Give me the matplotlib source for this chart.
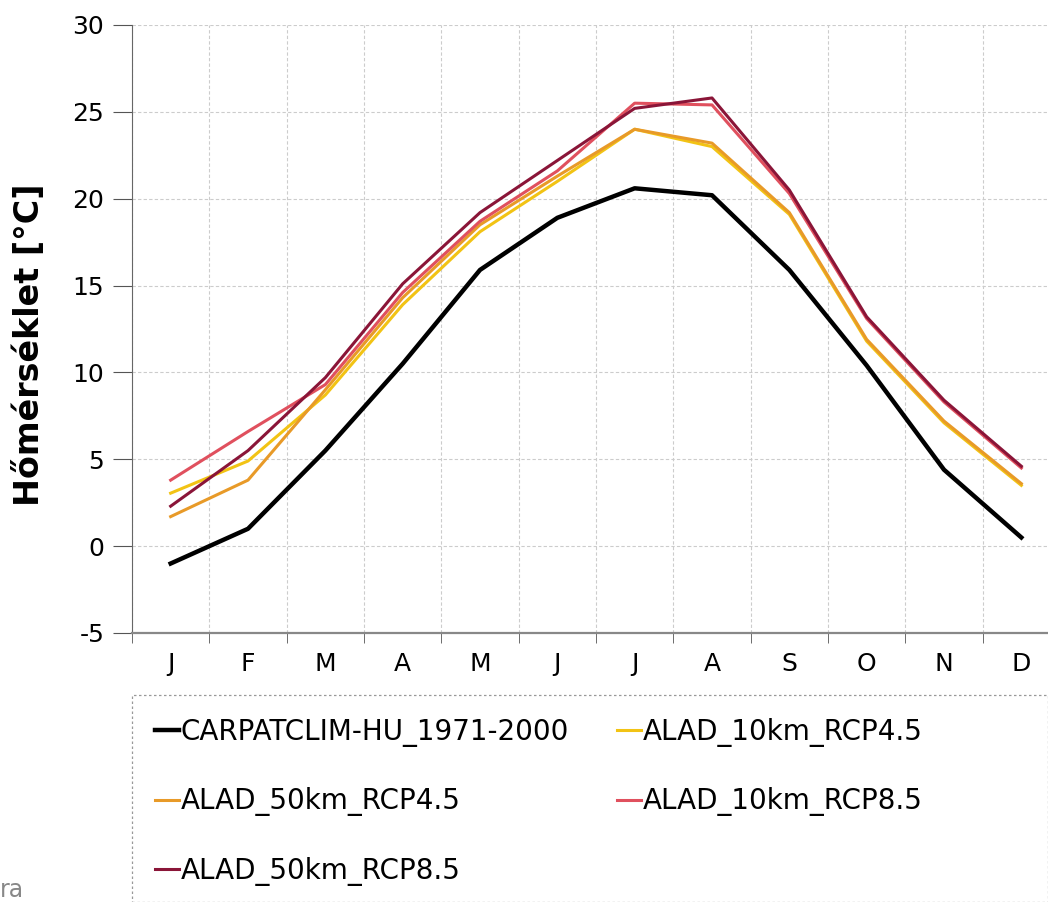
import matplotlib

matplotlib.use("Agg")
from matplotlib import pyplot as plt
from matplotlib.patches import Rectangle
import numpy as np

plt.rcParams['axes.unicode_minus'] = False

months = ['J', 'F', 'M', 'A', 'M', 'J', 'J', 'A', 'S', 'O', 'N', 'D']

carpatclim = [-1.0, 1.0, 5.5, 10.5, 15.9, 18.9, 20.6, 20.2, 15.9, 10.4, 4.4, 0.5]
alad10_45 = [3.05, 4.9, 8.7, 13.9, 18.1, 21.0, 24.0, 23.0, 19.1, 11.8, 7.1, 3.5]
alad50_45 = [1.7, 3.8, 9.0, 14.3, 18.5, 21.3, 24.0, 23.2, 19.2, 11.9, 7.2, 3.6]
alad10_85 = [3.8, 6.6, 9.3, 14.6, 18.7, 21.6, 25.5, 25.4, 20.3, 13.1, 8.3, 4.5]
alad50_85 = [2.3, 5.5, 9.7, 15.1, 19.2, 22.2, 25.2, 25.8, 20.5, 13.2, 8.4, 4.6]

series = [
    ('CARPATCLIM-HU_1971-2000', carpatclim, '#000000', 3.2),
    ('ALAD_10km_RCP4.5', alad10_45, '#F2C314', 2.2),
    ('ALAD_50km_RCP4.5', alad50_45, '#E89A28', 2.2),
    ('ALAD_10km_RCP8.5', alad10_85, '#E0505E', 2.2),
    ('ALAD_50km_RCP8.5', alad50_85, '#8A1538', 2.2),
]

fig = plt.figure(figsize=(10.48, 9.02), dpi=100)
W, H = 1048, 902
ax = fig.add_axes([132 / W, 1 - 633 / H, (1060 - 132) / W, (633 - 25) / H])

x = np.arange(len(months))
handles = {}
for name, vals, col, lw in series:
    h, = ax.plot(x, vals, color=col, lw=lw, label=name)
    handles[name] = h

ax.set_xlim(-0.5, 11.5)
ax.set_ylim(-5, 30)
ax.set_yticks(np.arange(-5, 31, 5))
ax.set_xticks(x)
ax.set_xticklabels(months)
ax.set_xticks(np.arange(-0.5, 12, 1), minor=True)
ax.tick_params(axis='x', which='major', length=0, pad=14, labelsize=18)
ax.tick_params(axis='x', which='minor', length=7, color='#555555', direction='out')
ax.tick_params(axis='y', length=14, color='#555555', direction='out', pad=6, labelsize=18)
ax.grid(True, which='minor', axis='x', ls=(0, (3, 2)), color='#cccccc', lw=0.8)
ax.grid(True, which='major', axis='y', ls=(0, (3, 2)), color='#cccccc', lw=0.8)
ax.set_axisbelow(True)
for s in ['top', 'right']:
    ax.spines[s].set_visible(False)
ax.spines['left'].set_color('#666666')
ax.spines['bottom'].set_color('#888888')
ax.spines['bottom'].set_linewidth(1.6)

fig.text(30 / W, 1 - 345 / H, 'Hőmérséklet [°C]', rotation=90, fontsize=24,
         fontweight='bold', ha='center', va='center')

# legend box
fig.patches.append(Rectangle((132 / W, 0), 1 - 132 / W, 1 - 695 / H,
                             transform=fig.transFigure, fill=False,
                             ls=(0, (2, 2)), ec='#999999', lw=0.9))
# row-major order in a two-column legend
order = ['CARPATCLIM-HU_1971-2000', 'ALAD_50km_RCP4.5', 'ALAD_50km_RCP8.5',
         'ALAD_10km_RCP4.5', 'ALAD_10km_RCP8.5']
fig.legend(handles=[handles[n] for n in order], loc='upper left', ncol=2,
           frameon=False, bbox_to_anchor=(144 / W, 1 - 707 / H),
           borderaxespad=0, fontsize=20, handlelength=0.86,
           handletextpad=0.05, labelspacing=1.45, columnspacing=1.75)

fig.text(0, 1 - 890 / H, 'ra', fontsize=17, color='#888888', va='center')

fig.savefig('out.png', dpi=100)
